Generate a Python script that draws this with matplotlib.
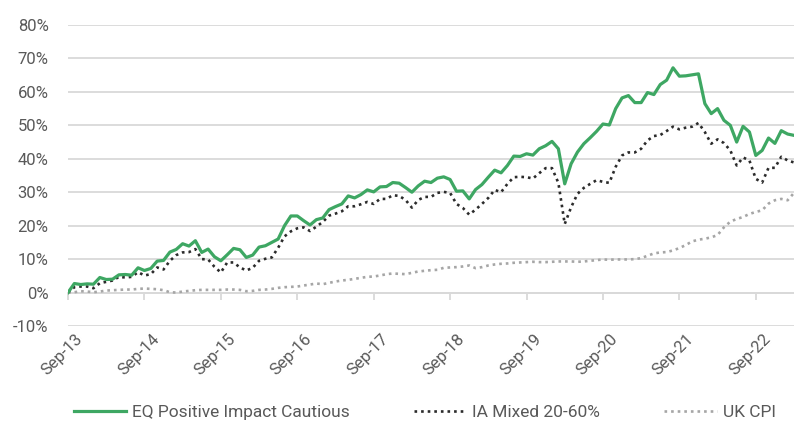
import numpy as np
import matplotlib
matplotlib.use("Agg")
import matplotlib.pyplot as plt
import matplotlib.transforms as mtrans

# rendimiento acumulado mensual (%), Sep-13 a Mar-23
eq_cautious = [0.0, 2.7, 2.4, 2.6, 2.5, 4.5, 3.9, 4.0, 5.3, 5.4, 5.2, 7.4, 6.6,
               7.2, 9.4, 9.6, 12.1, 12.9, 14.6, 13.9, 15.5, 12.0, 13.0, 10.7, 9.5,
               11.3, 13.2, 12.8, 10.5, 11.2, 13.6, 14.0, 15.0, 16.0, 20.0, 22.9, 22.9,
               21.5, 20.2, 21.8, 22.3, 24.8, 25.7, 26.5, 28.9, 28.3, 29.3, 30.7, 30.1,
               31.6, 31.7, 32.9, 32.7, 31.4, 30.0, 31.9, 33.3, 32.9, 34.2, 34.6, 33.8,
               30.3, 30.4, 28.0, 30.8, 32.3, 34.5, 36.6, 35.8, 38.0, 40.8, 40.7, 41.5,
               41.1, 43.0, 43.9, 45.2, 43.0, 32.5, 38.5, 42.0, 44.5, 46.3, 48.2, 50.4,
               50.1, 55.0, 58.2, 58.9, 56.8, 56.8, 59.8, 59.2, 62.2, 63.5, 67.2, 64.7,
               64.8, 65.1, 65.4, 56.5, 53.5, 55.0, 51.5, 50.0, 45.0, 49.7, 48.0, 41.0,
               42.5, 46.2, 44.6, 48.4, 47.4, 47.0]

ia_mixed = [0.0, 1.6, 1.8, 1.8, 1.3, 2.8, 3.2, 3.6, 4.7, 4.5, 4.7, 6.1, 5.1,
            5.5, 7.5, 6.9, 9.5, 11.2, 12.0, 12.1, 13.0, 10.0, 9.9, 7.7, 6.0,
            9.0, 9.0, 7.5, 6.6, 7.4, 9.5, 10.1, 10.5, 13.4, 16.8, 18.3, 19.2,
            19.5, 18.4, 19.7, 21.1, 23.0, 23.6, 24.3, 25.8, 25.8, 26.4, 27.1, 26.5,
            28.0, 28.0, 29.1, 28.9, 27.7, 25.4, 27.7, 28.6, 28.6, 29.8, 30.1, 29.8,
            26.5, 25.3, 23.3, 24.8, 26.5, 28.3, 30.7, 30.0, 32.5, 34.5, 34.6, 34.5,
            34.1, 35.7, 37.2, 37.2, 32.8, 20.5, 25.5, 29.5, 31.3, 32.5, 33.6, 33.1,
            32.8, 37.6, 41.0, 41.9, 41.9, 43.0, 45.5, 46.8, 47.1, 48.3, 49.6, 48.8,
            49.3, 49.6, 50.7, 48.0, 44.5, 45.8, 44.7, 42.5, 38.0, 40.4, 39.5, 34.0,
            32.9, 37.3, 37.3, 40.6, 39.5, 38.9]

uk_cpi = [0.0, 0.1, 0.4, 0.3, 0.1, 0.3, 0.6, 0.7, 0.8, 0.9, 0.9, 1.1, 1.2,
          1.1, 1.0, 0.7, 0.1, 0.0, 0.3, 0.5, 0.7, 0.8, 0.8, 0.8, 0.8,
          0.9, 0.9, 0.8, 0.4, 0.5, 0.8, 0.9, 1.1, 1.4, 1.6, 1.7, 1.8,
          2.1, 2.4, 2.7, 2.5, 2.9, 3.3, 3.6, 3.8, 4.1, 4.4, 4.7, 4.8,
          5.1, 5.5, 5.7, 5.6, 5.5, 5.9, 6.3, 6.5, 6.7, 6.8, 7.4, 7.5,
          7.6, 7.8, 8.1, 7.3, 7.6, 8.1, 8.4, 8.6, 8.7, 8.9, 9.0, 9.1,
          9.2, 9.1, 9.1, 9.2, 9.3, 9.3, 9.3, 9.2, 9.3, 9.5, 9.7, 9.9,
          9.8, 9.9, 9.9, 9.9, 10.0, 10.3, 11.0, 11.7, 12.0, 12.1, 12.6, 13.3,
          14.2, 15.3, 15.8, 16.1, 16.5, 17.2, 19.5, 21.2, 22.0, 22.6, 23.5, 24.1,
          24.6, 26.6, 27.6, 28.0, 27.6, 29.8]

tick_labels = ["Sep-13", "Sep-14", "Sep-15", "Sep-16", "Sep-17",
               "Sep-18", "Sep-19", "Sep-20", "Sep-21", "Sep-22"]
y_ticks = [-10, 0, 10, 20, 30, 40, 50, 60, 70, 80]

plt.rcParams['font.family'] = ['Roboto', 'DejaVu Sans']
gris_texto = "#595959"
gris_grid = "#d9d9d9"

meses = np.arange(len(eq_cautious))

fig = plt.figure(figsize=(7.94, 4.25), dpi=100)
ax = fig.add_axes([68/794, 1 - 326/425, 1 - 68/794, 301/425])

ax.plot(meses, eq_cautious, color="#3ea763", lw=2.3, zorder=5,
        label="EQ Positive Impact Cautious")
ax.plot(meses, ia_mixed, color="#2b2b2b", lw=1.9, ls=(0, (1, 1.5)), zorder=4,
        label="IA Mixed 20-60%")
ax.plot(meses, uk_cpi, color="#a6a6a6", lw=1.9, ls=(0, (1, 1.5)), zorder=3,
        label="UK CPI")

ax.set_xlim(0, len(eq_cautious) - 1)
ax.set_ylim(-10, 80)
ax.set_yticks(y_ticks)
ax.set_yticklabels([f"{v}%" for v in y_ticks], fontsize=12, color=gris_texto)
ax.tick_params(axis='y', length=0, pad=14)
ax.grid(axis='y', color=gris_grid, lw=1.3)
ax.set_axisbelow(True)

for s in ["top", "right", "left"]:
    ax.spines[s].set_visible(False)
ax.spines["bottom"].set_position(("data", 0))
ax.spines["bottom"].set_color(gris_grid)
ax.spines["bottom"].set_linewidth(1.3)

pos_ticks = meses[::12]
ax.set_xticks(pos_ticks)
ax.tick_params(axis='x', labelbottom=False, length=5, width=1.3, color=gris_grid)

sec = ax.secondary_xaxis('bottom')
sec.set_xticks(pos_ticks)
sec.set_xticklabels(tick_labels, rotation=45, ha="right", rotation_mode="anchor",
                    fontsize=12, color=gris_texto)
sec.tick_params(length=0, pad=4)
sec.spines["bottom"].set_visible(False)
desplaza = mtrans.ScaledTranslation(7/100, 0, fig.dpi_scale_trans)
for lab in sec.get_xticklabels():
    lab.set_transform(lab.get_transform() + desplaza)

fig.legend(loc="lower center", bbox_to_anchor=(0.535, -0.025), ncol=3, frameon=False,
           fontsize=12.5, handlelength=3.0, handletextpad=0.35, columnspacing=3.7,
           labelcolor=gris_texto)

fig.savefig("out.png", dpi=100)
